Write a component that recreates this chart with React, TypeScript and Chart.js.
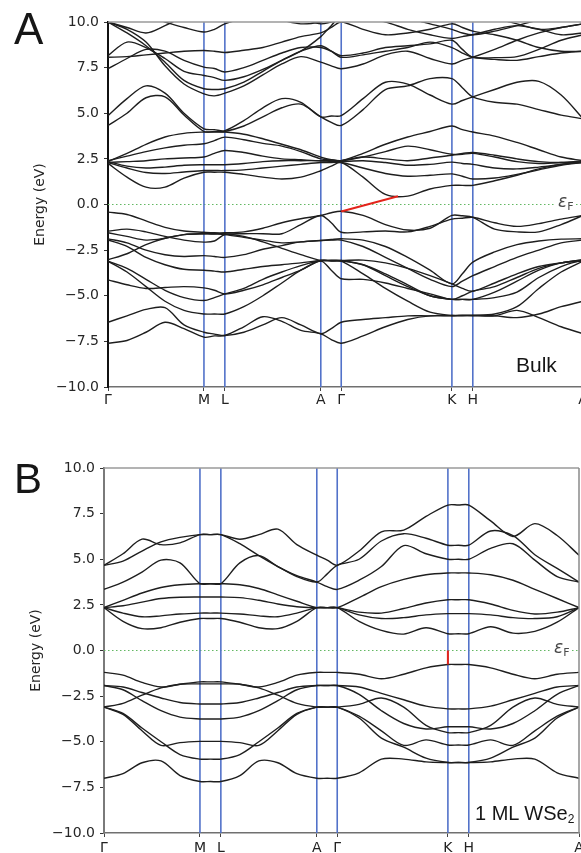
import React, { useEffect, useRef } from "react";
import { Chart, registerables } from "chart.js";

Chart.register(...registerables);

// k-path sample positions (fraction of the path Γ-M-L-A-Γ-K-H-A)
const K_POS = [0, 0.04, 0.08, 0.12, 0.16, 0.202, 0.224, 0.246, 0.286, 0.326, 0.366, 0.406, 0.448, 0.47, 0.491, 0.537, 0.584, 0.631, 0.678, 0.724, 0.746, 0.768, 0.814, 0.861, 0.907, 0.954, 1.0];
const SYM_POS = [0, 0.202, 0.246, 0.448, 0.491, 0.724, 0.768, 1.0];
const SYM_LABELS = ["Γ", "M", "L", "A", "Γ", "K", "H", "A"];
const Y_TICKS = [-10, -7.5, -5, -2.5, 0, 2.5, 5, 7.5, 10];

// ---- Bulk WSe2 bands (eV) ----
const BULK_C1 = [2.25, 1.5, 0.95, 0.95, 1.45, 1.77, 1.77, 1.77, 1.65, 1.5, 1.4, 1.5, 1.85, 2.1, 2.3, 1.5, 0.55, 0.46, 0.85, 1.05, 1.05, 1.05, 1.3, 1.6, 1.95, 2.2, 2.3];
const BULK_C2 = [2.3, 2.0, 1.75, 1.7, 1.78, 1.86, 1.86, 1.86, 1.9, 2.0, 2.1, 2.2, 2.3, 2.3, 2.3, 2.0, 1.7, 1.55, 1.6, 1.68, 1.55, 1.4, 1.45, 1.65, 1.9, 2.15, 2.3];
const BULK_C3 = [2.35, 2.1, 2.0, 2.05, 2.15, 2.18, 2.18, 2.18, 2.25, 2.35, 2.4, 2.4, 2.4, 2.35, 2.35, 2.4, 2.3, 2.15, 2.2, 2.32, 2.25, 2.2, 2.0, 1.95, 2.05, 2.2, 2.35];
const BULK_C4 = [2.3, 2.35, 2.4, 2.5, 2.55, 2.6, 2.8, 2.96, 2.85, 2.65, 2.5, 2.45, 2.4, 2.4, 2.4, 2.6, 2.5, 2.4, 2.55, 2.7, 2.75, 2.8, 2.6, 2.35, 2.25, 2.3, 2.4];
const BULK_C5 = [2.4, 2.65, 2.9, 3.1, 3.25, 3.33, 3.5, 3.69, 3.55, 3.35, 3.2, 2.9, 2.5, 2.45, 2.4, 2.8, 3.3, 3.7, 4.0, 4.3, 4.1, 3.97, 3.75, 3.4, 3.0, 2.6, 2.4];
const BULK_C6 = [2.35, 2.8, 3.3, 3.7, 3.9, 3.97, 3.97, 3.97, 3.85, 3.6, 3.3, 3.0, 2.6, 2.45, 2.4, 2.6, 2.9, 3.2, 3.0, 2.75, 2.8, 2.85, 2.7, 2.5, 2.35, 2.3, 2.35];
const BULK_C7 = [4.87, 5.8, 6.5, 6.1, 5.0, 4.15, 4.1, 4.05, 4.6, 5.3, 5.8, 5.6, 4.8, 4.85, 4.87, 5.8, 6.7, 6.6, 6.0, 5.5, 5.7, 5.9, 6.3, 6.7, 6.75, 6.0, 4.7];
const BULK_C8 = [4.33, 5.0, 5.85, 5.9, 4.9, 4.0, 4.0, 4.0, 4.3, 4.8, 5.3, 5.5, 4.8, 4.5, 4.33, 5.2, 6.3, 6.5, 6.9, 6.9, 6.4, 5.9, 5.6, 5.5, 5.2, 4.9, 4.7];
const BULK_C9 = [7.44, 8.0, 8.5, 8.4, 7.9, 7.53, 7.45, 7.26, 7.5, 7.9, 8.3, 8.6, 8.6, 8.4, 8.16, 8.3, 8.6, 8.7, 8.8, 9.0, 8.5, 8.07, 8.05, 8.1, 8.5, 9.0, 9.3];
const BULK_C10 = [8.16, 8.9, 8.6, 8.0, 7.3, 7.07, 6.95, 6.8, 7.0, 7.4, 7.9, 8.4, 8.7, 8.4, 8.07, 8.2, 8.4, 8.6, 8.9, 8.6, 8.3, 8.07, 7.95, 7.9, 8.1, 8.3, 8.4];
const BULK_C11 = [8.07, 8.1, 8.2, 8.3, 8.4, 8.44, 8.4, 8.33, 8.45, 8.6, 8.9, 9.2, 9.4, 9.7, 10.0, 9.6, 9.3, 9.4, 9.6, 9.9, 9.7, 9.5, 9.3, 9.0, 8.6, 8.4, 8.4];
const BULK_C12 = [10.0, 9.4, 8.7, 7.8, 6.8, 6.34, 6.3, 6.34, 6.7, 7.3, 7.9, 8.4, 9.2, 9.8, 10.3, 10.2, 10.0, 9.6, 9.3, 9.1, 9.2, 9.3, 9.6, 9.8, 9.6, 9.3, 9.4];
const BULK_C13 = [10.0, 9.6, 8.9, 7.6, 6.6, 6.06, 5.95, 6.1, 6.5, 7.1, 7.7, 8.1, 7.8, 7.6, 7.44, 7.7, 8.2, 8.4, 8.0, 7.7, 7.9, 8.07, 8.5, 9.0, 9.4, 9.7, 9.9];
const BULK_C14 = [10.6, 10.5, 10.3, 10.0, 9.7, 9.45, 9.6, 9.9, 10.2, 10.4, 10.5, 10.2, 9.9, 10.0, 10.1, 10.4, 10.4, 10.2, 9.9, 9.6, 9.4, 9.3, 9.5, 9.8, 10.1, 10.2, 10.0];
const BULK_C15 = [10.0, 9.7, 9.4, 9.8, 10.3, 10.6, 10.6, 10.6, 10.5, 10.3, 10.1, 9.9, 10.0, 10.2, 10.4, 10.6, 10.5, 10.3, 10.4, 10.5, 10.5, 10.4, 10.2, 9.9, 9.6, 9.7, 9.9];
const BULK_V1 = [-0.42, -0.55, -0.9, -1.25, -1.45, -1.52, -1.55, -1.55, -1.5, -1.3, -1.0, -0.78, -0.6, -0.45, -0.37, -0.6, -1.1, -1.4, -1.3, -0.6, -0.62, -0.7, -1.35, -1.5, -1.5, -1.1, -0.6];
const BULK_V2 = [-1.46, -1.35, -1.5, -1.75, -1.95, -2.06, -2.0, -1.65, -1.6, -1.6, -1.6, -1.1, -0.6, -1.0, -1.52, -1.5, -1.45, -1.5, -1.2, -0.8, -0.75, -0.7, -1.0, -1.2, -1.05, -0.8, -0.6];
const BULK_V3 = [-1.55, -1.75, -1.95, -1.85, -1.65, -1.6, -1.62, -1.65, -1.8, -1.95, -2.1, -2.05, -1.97, -1.92, -1.88, -1.95, -2.3, -2.9, -3.6, -4.35, -3.8, -3.16, -2.6, -2.2, -2.0, -1.9, -1.88];
const BULK_V4 = [-1.88, -2.1, -2.5, -2.75, -2.85, -2.8, -2.85, -2.9, -2.75, -2.45, -2.25, -2.05, -1.97, -1.95, -1.95, -2.3, -2.9, -3.5, -4.1, -4.5, -4.2, -3.9, -3.4, -2.9, -2.5, -2.1, -1.95];
const BULK_V5 = [-1.94, -2.3, -2.9, -3.3, -3.55, -3.6, -3.65, -3.7, -3.55, -3.4, -3.3, -3.2, -3.07, -3.07, -3.07, -3.05, -3.2, -3.5, -3.9, -4.35, -4.6, -4.75, -4.3, -3.8, -3.4, -3.2, -3.03];
const BULK_V6 = [-3.03, -2.7, -2.2, -1.85, -1.65, -1.6, -1.6, -1.6, -1.75, -2.05, -2.4, -2.75, -3.07, -3.07, -3.07, -3.3, -3.9, -4.5, -5.0, -5.2, -5.2, -5.2, -4.8, -4.2, -3.6, -3.2, -3.1];
const BULK_V7 = [-3.1, -3.5, -4.1, -4.7, -5.1, -5.26, -5.1, -4.9, -4.6, -4.1, -3.7, -3.35, -3.07, -3.07, -3.1, -3.8, -4.6, -5.3, -5.9, -6.08, -6.08, -6.08, -6.0, -5.6, -4.6, -3.7, -3.1];
const BULK_V8 = [-3.1, -3.7, -4.5, -5.3, -5.8, -6.0, -6.0, -6.0, -5.6, -5.0, -4.3, -3.6, -3.07, -3.1, -3.1, -3.3, -3.8, -4.4, -5.0, -5.2, -5.2, -5.2, -5.1, -4.8, -4.0, -3.4, -3.03];
const BULK_V9 = [-4.13, -4.4, -4.6, -4.55, -4.5, -4.57, -4.7, -4.9, -4.7, -4.4, -4.0, -3.6, -3.1, -3.6, -4.07, -4.1, -4.3, -4.6, -4.9, -5.2, -5.0, -4.75, -4.5, -4.0, -3.5, -3.2, -3.03];
const BULK_V10 = [-6.45, -6.1, -5.75, -5.65, -6.6, -7.0, -7.1, -7.18, -7.0, -6.6, -6.2, -6.6, -7.08, -6.8, -6.45, -6.3, -6.2, -6.1, -6.1, -6.08, -6.08, -6.08, -6.1, -6.2, -6.0, -5.6, -5.3];
const BULK_V11 = [-7.6, -7.45, -7.0, -6.45, -6.8, -7.27, -7.2, -7.18, -6.7, -6.15, -6.4, -6.9, -7.08, -7.4, -7.6, -7.2, -6.7, -6.3, -6.1, -6.1, -6.08, -6.08, -6.1, -5.8, -6.2, -6.7, -7.08];
const BULK_GAP_K = [0.491, 0.6105];
const BULK_GAP_E = [-0.38, 0.45];

// ---- 1 ML WSe2 bands (eV) ----
const ML_C1 = [4.67, 5.3, 6.1, 5.8, 5.9, 6.35, 6.35, 6.35, 6.1, 6.35, 6.65, 5.8, 5.22, 4.95, 4.67, 5.45, 6.5, 6.6, 7.35, 7.97, 7.97, 7.97, 7.1, 6.25, 6.95, 6.3, 5.22];
const ML_C2 = [4.67, 4.9, 5.45, 5.95, 6.2, 6.35, 6.35, 6.35, 5.85, 5.2, 4.6, 4.05, 3.75, 4.2, 4.67, 5.0, 6.0, 6.4, 6.15, 5.77, 5.77, 5.77, 6.55, 6.3, 5.25, 4.5, 3.75];
const ML_C3 = [3.35, 3.75, 4.3, 4.95, 4.8, 3.66, 3.66, 3.66, 4.8, 5.2, 4.6, 4.1, 3.75, 3.5, 3.35, 3.85, 4.6, 5.75, 5.3, 5.0, 5.0, 5.0, 5.6, 5.85, 4.95, 4.05, 3.75];
const ML_C4 = [2.35, 2.75, 3.15, 3.45, 3.6, 3.66, 3.66, 3.66, 3.6, 3.4, 3.05, 2.7, 2.35, 2.35, 2.35, 2.9, 3.5, 3.9, 4.15, 4.25, 4.25, 4.25, 4.15, 3.85, 3.35, 2.85, 2.35];
const ML_C5 = [2.35, 2.45, 2.65, 2.85, 2.92, 2.93, 2.93, 2.93, 2.9, 2.75, 2.55, 2.4, 2.35, 2.35, 2.35, 2.1, 2.05, 2.3, 2.6, 2.78, 2.78, 2.78, 2.55, 2.2, 2.0, 2.1, 2.35];
const ML_C6 = [2.35, 2.05, 1.85, 1.9, 2.0, 2.05, 2.05, 2.05, 2.0, 1.9, 1.85, 2.05, 2.35, 2.35, 2.35, 1.95, 1.75, 1.8, 1.95, 2.02, 2.02, 2.02, 1.95, 1.8, 1.75, 1.85, 2.35];
const ML_C7 = [2.35, 1.6, 1.2, 1.25, 1.55, 1.75, 1.75, 1.75, 1.55, 1.25, 1.2, 1.6, 2.35, 2.35, 2.35, 1.6, 1.1, 0.9, 1.25, 0.92, 0.92, 0.92, 1.3, 0.95, 1.05, 1.55, 2.35];
const ML_V1 = [-1.2, -1.35, -1.75, -2.0, -1.85, -1.72, -1.72, -1.72, -1.85, -2.0, -1.75, -1.35, -1.2, -1.2, -1.2, -1.3, -1.55, -1.3, -0.95, -0.77, -0.77, -0.77, -0.95, -1.3, -1.55, -1.3, -1.2];
const ML_V2 = [-1.92, -2.0, -2.3, -2.6, -2.85, -2.93, -2.93, -2.93, -2.85, -2.6, -2.3, -2.0, -1.92, -1.92, -1.92, -2.0, -2.35, -2.7, -3.05, -3.2, -3.2, -3.2, -3.05, -2.7, -2.35, -2.0, -1.92];
const ML_V3 = [-1.92, -2.15, -2.75, -3.3, -3.65, -3.75, -3.75, -3.75, -3.65, -3.3, -2.75, -2.15, -1.92, -1.92, -1.92, -2.4, -3.3, -4.0, -4.3, -4.18, -4.18, -4.18, -4.3, -4.0, -3.3, -2.4, -1.92];
const ML_V4 = [-3.1, -2.9, -2.45, -2.05, -1.85, -1.83, -1.83, -1.83, -1.85, -2.05, -2.45, -2.9, -3.1, -3.1, -3.1, -2.95, -2.6, -3.1, -4.1, -4.5, -4.5, -4.5, -4.1, -3.1, -2.6, -2.95, -3.1];
const ML_V5 = [-3.1, -3.5, -4.4, -5.2, -5.05, -4.98, -4.98, -4.98, -5.05, -5.2, -4.4, -3.5, -3.1, -3.1, -3.1, -3.6, -4.4, -5.2, -4.9, -5.18, -5.18, -5.18, -4.9, -5.2, -4.4, -3.6, -3.1];
const ML_V6 = [-3.1, -3.45, -4.25, -5.0, -5.7, -5.95, -5.95, -5.95, -5.7, -5.0, -4.25, -3.45, -3.1, -3.1, -3.1, -3.7, -4.8, -5.3, -5.9, -6.14, -6.14, -6.14, -5.9, -5.3, -4.8, -3.7, -3.1];
const ML_V7 = [-7.0, -6.75, -6.15, -6.05, -6.85, -7.18, -7.18, -7.18, -6.85, -6.05, -6.15, -6.75, -7.0, -7.0, -7.0, -6.7, -5.95, -5.95, -6.1, -6.14, -6.14, -6.14, -6.1, -5.95, -5.95, -6.7, -7.0];
const ML_GAP_K = [0.724, 0.724];
const ML_GAP_E = [0, -0.77];

const BULK_BANDS = [BULK_C1, BULK_C2, BULK_C3, BULK_C4, BULK_C5, BULK_C6, BULK_C7, BULK_C8, BULK_C9, BULK_C10, BULK_C11, BULK_C12, BULK_C13, BULK_C14, BULK_C15, BULK_V1, BULK_V2, BULK_V3, BULK_V4, BULK_V5, BULK_V6, BULK_V7, BULK_V8, BULK_V9, BULK_V10, BULK_V11];
const ML_BANDS = [ML_C1, ML_C2, ML_C3, ML_C4, ML_C5, ML_C6, ML_C7, ML_V1, ML_V2, ML_V3, ML_V4, ML_V5, ML_V6, ML_V7];

const FONT = "'DejaVu Sans', sans-serif";

type Panel = {
  padTop: number; padRight: number; padBottom: number;
  yAxisW: number; xAxisH: number; titlePad: number; xTickPad: number;
  leftColor: string; drawRight: boolean;
};

const framePlugin = {
  id: "frame",
  afterDraw(chart: any, _args: any, opts: any) {
    const { ctx, chartArea } = chart;
    const { left, right, top, bottom } = chartArea;
    ctx.save();
    ctx.lineWidth = 1.5;
    ctx.strokeStyle = "#9a9a9a";
    ctx.beginPath();
    ctx.moveTo(left, top);
    ctx.lineTo(right, top);
    ctx.stroke();
    if (opts.drawRight) {
      ctx.strokeStyle = "#8a8a8a";
      ctx.beginPath();
      ctx.moveTo(right, top);
      ctx.lineTo(right, bottom);
      ctx.stroke();
    }
    ctx.restore();
  },
};

function fmtE(v: number) {
  return (v < 0 ? "\u2212" : "") + Math.abs(v).toFixed(1);
}

function buildConfig(bands: number[][], gapK: number[], gapE: number[], p: Panel): any {
  const datasets: any[] = [];
  datasets.push({
    data: gapK.map((k, i) => ({ x: k, y: gapE[i] })),
    borderColor: "#e3241b", borderWidth: 2, tension: 0, order: 0,
  });
  bands.forEach((b) => {
    datasets.push({
      data: K_POS.map((k, i) => ({ x: k, y: b[i] })),
      borderColor: "#1e1e1e", borderWidth: 1.4, tension: 0.32, order: 1,
    });
  });
  SYM_POS.slice(1, -1).forEach((k) => {
    datasets.push({
      data: [{ x: k, y: -10 }, { x: k, y: 10 }],
      borderColor: "#5272c9", borderWidth: 1.6, tension: 0, order: 2,
    });
  });
  datasets.push({
    data: [{ x: 0, y: 0 }, { x: 1, y: 0 }],
    borderColor: "#63b863", borderWidth: 1.2, borderDash: [1.5, 2.5], tension: 0, order: 3,
  });

  return {
    type: "line",
    data: { datasets },
    options: {
      animation: false,
      responsive: false,
      maintainAspectRatio: false,
      layout: { padding: { left: 0, top: p.padTop, right: p.padRight, bottom: p.padBottom } },
      elements: { point: { radius: 0 } },
      plugins: { legend: { display: false }, tooltip: { enabled: false }, frame: { drawRight: p.drawRight } },
      scales: {
        x: {
          type: "linear", min: 0, max: 1,
          afterBuildTicks: (s: any) => { s.ticks = SYM_POS.map((v) => ({ value: v })); },
          afterFit: (s: any) => { s.height = p.xAxisH; },
          ticks: {
            autoSkip: false, maxRotation: 0, padding: p.xTickPad, color: "#222",
            font: { family: FONT, size: 14 },
            callback: (_v: any, i: number) => SYM_LABELS[i],
          },
          grid: { display: true, drawOnChartArea: false, drawTicks: true, tickLength: 4, color: "#444" },
          border: { display: true, color: "#707070", width: 1.5 },
        },
        y: {
          type: "linear", min: -10, max: 10,
          afterBuildTicks: (s: any) => { s.ticks = Y_TICKS.map((v) => ({ value: v })); },
          afterFit: (s: any) => { s.width = p.yAxisW; },
          ticks: { padding: 5, color: "#262626", font: { family: FONT, size: 14 }, callback: (v: any) => fmtE(Number(v)) },
          grid: { display: true, drawOnChartArea: false, drawTicks: true, tickLength: 4, color: "#333" },
          border: { display: true, color: p.leftColor, width: 2 },
          title: { display: true, text: "Energy (eV)", color: "#262626", font: { family: FONT, size: 14 }, padding: { top: p.titlePad, bottom: 0 } },
        },
      },
    },
    plugins: [framePlugin],
  };
}

const PANEL_A: Panel = { padTop: 22, padRight: 17, padBottom: 3, yAxisW: 108, xAxisH: 30, titlePad: 32, xTickPad: 1, leftColor: "#111", drawRight: false };
const PANEL_B: Panel = { padTop: 48, padRight: 21, padBottom: 0, yAxisW: 104, xAxisH: 20, titlePad: 28, xTickPad: 3, leftColor: "#7a7a7a", drawRight: true };

export default function App() {
  const refA = useRef<HTMLCanvasElement>(null);
  const refB = useRef<HTMLCanvasElement>(null);

  useEffect(() => {
    const a = new Chart(refA.current as HTMLCanvasElement, buildConfig(BULK_BANDS, BULK_GAP_K, BULK_GAP_E, PANEL_A));
    const b = new Chart(refB.current as HTMLCanvasElement, buildConfig(ML_BANDS, ML_GAP_K, ML_GAP_E, PANEL_B));
    return () => { a.destroy(); b.destroy(); };
  }, []);

  const label = (size: number): React.CSSProperties => ({
    position: "absolute", font: `${size}px 'Liberation Sans', Arial, sans-serif`, lineHeight: 1, color: "#161616", whiteSpace: "nowrap",
  });
  const ef: React.CSSProperties = {
    position: "absolute", background: "#fff", padding: "0 2px", font: `italic 17px ${FONT}`, lineHeight: 1, color: "#4a4a4a",
  };

  return (
    <div style={{ position: "absolute", left: 0, top: 0, width: 581, height: 853, overflow: "hidden", background: "#fff" }}>
      <div style={{ position: "absolute", left: 0, top: 0 }}>
        <canvas ref={refA} width={600} height={420} style={{ display: "block" }} />
      </div>
      <div style={{ position: "absolute", left: 0, top: 420 }}>
        <canvas ref={refB} width={600} height={433} style={{ display: "block" }} />
      </div>
      <div style={{ ...label(44), left: 14, top: 7 }}>A</div>
      <div style={{ ...label(42), left: 14, top: 458 }}>B</div>
      <div style={{ ...label(21), left: 516, top: 354 }}>Bulk</div>
      <div style={{ ...label(20), left: 475, top: 803 }}>
        1 ML WSe<span style={{ fontSize: 12, position: "relative", top: 3 }}>2</span>
      </div>
      <div style={{ ...ef, left: 556, top: 193 }}>
        ε<span style={{ fontSize: 11, fontStyle: "normal", position: "relative", top: 3 }}>F</span>
      </div>
      <div style={{ ...ef, left: 552, top: 639 }}>
        ε<span style={{ fontSize: 11, fontStyle: "normal", position: "relative", top: 3 }}>F</span>
      </div>
    </div>
  );
}
